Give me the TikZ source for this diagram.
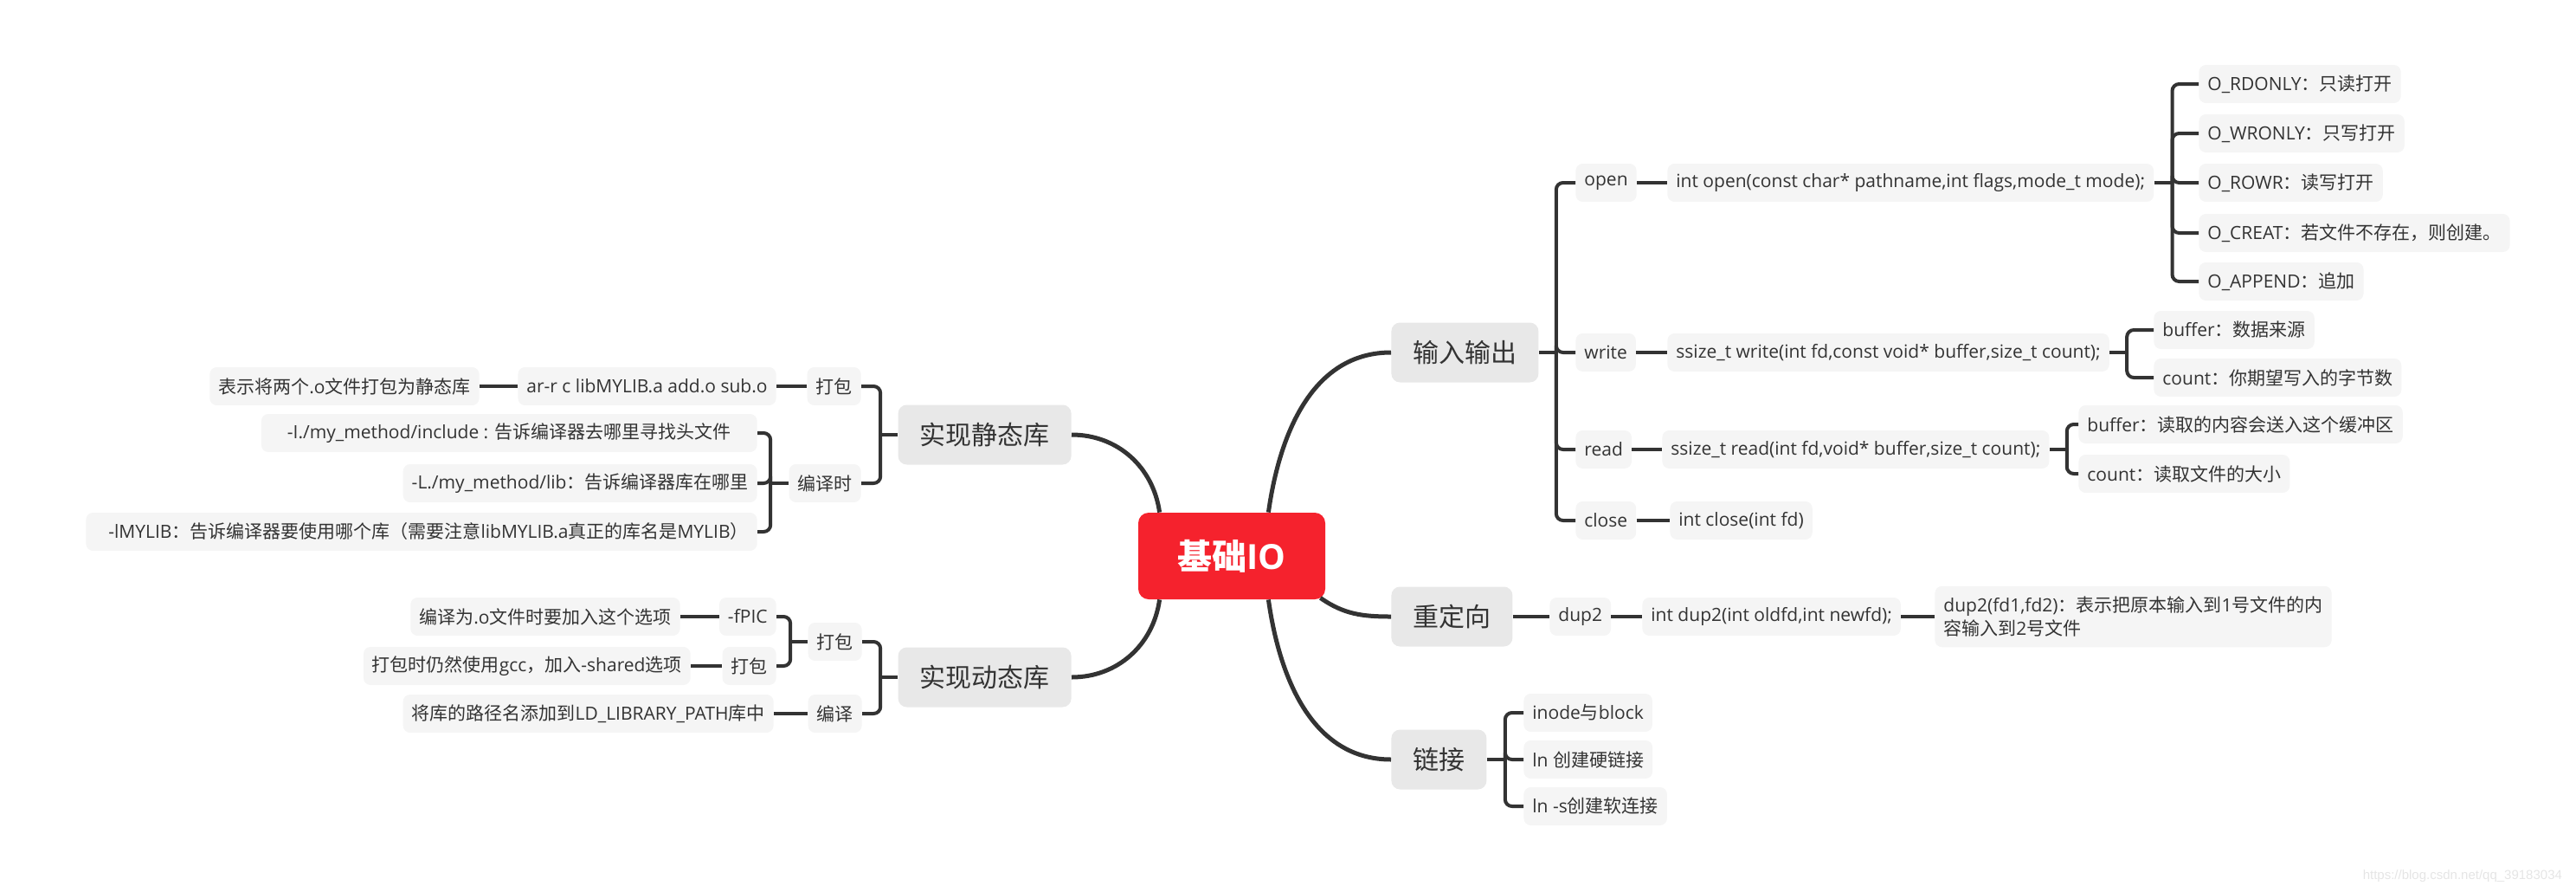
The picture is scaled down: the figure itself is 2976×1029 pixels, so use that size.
\documentclass[tikz,border=0pt]{standalone}
\usepackage{fontspec}
\setmainfont{Open Sans}
\newfontfamily\latinfont{Open Sans}
\newfontfamily\cjkfont{Noto Sans CJK SC}
\newfontfamily\wmfont{Liberation Sans}
% han characters and full width marks go to the CJK font
\newcount\cjkcode
\cjkcode="4E00
\loop\XeTeXcharclass\cjkcode=1 \advance\cjkcode by 1 \ifnum\cjkcode<"A000 \repeat
\XeTeXcharclass"FF1A=3 \XeTeXcharclass"FF0C=3 \XeTeXcharclass"3002=3
\XeTeXcharclass"FF08=2 \XeTeXcharclass"FF09=3
\XeTeXinterchartokenstate=1
\XeTeXinterchartoks 0 1 = {\cjkfont}
\XeTeXinterchartoks 0 2 = {\cjkfont}
\XeTeXinterchartoks 0 3 = {\cjkfont}
\XeTeXinterchartoks 4095 1 = {\cjkfont}
\XeTeXinterchartoks 4095 2 = {\cjkfont}
\XeTeXinterchartoks 4095 3 = {\cjkfont}
\XeTeXinterchartoks 1 0 = {\latinfont}
\XeTeXinterchartoks 2 0 = {\latinfont}
\XeTeXinterchartoks 3 0 = {\latinfont}

\definecolor{ink}{HTML}{333333}
\definecolor{leafgrey}{HTML}{F5F5F5}
\definecolor{branchgrey}{HTML}{E8E8E8}
\definecolor{rootred}{HTML}{F5222D}

\newcommand\leafsize{\fontsize{10.5pt}{13.5pt}\selectfont}
\newcommand\branchsize{\fontsize{15pt}{18pt}\selectfont}
\newcommand\rootsize{\fontsize{20pt}{24pt}\selectfont\bfseries}

\tikzset{
  leaf/.style={fill=leafgrey, text=ink, rounded corners=4pt, minimum height=22pt,
    inner xsep=5pt, inner ysep=3pt, font=\leafsize},
  branch/.style={fill=branchgrey, text=ink, rounded corners=5pt, minimum height=34.5pt,
    inner xsep=12.5pt, font=\branchsize},
  root/.style={fill=rootred, text=white, rounded corners=6pt, minimum width=108pt,
    minimum height=50pt, font=\rootsize},
  trunk/.style={draw=ink, line width=2.5pt},
  stub/.style={draw=ink, line width=2pt},
  brace/.style={draw=ink, line width=2pt, rounded corners=4pt},
}

\begin{document}
\begin{tikzpicture}[x=0.5pt, y=-0.5pt]
\useasboundingbox (0,0) rectangle (2976,1029);

\node[root] (root) at (1423,642) {基础IO};

\node[branch, anchor=west] (io) at (1607,407) {输入输出};
\node[branch, anchor=west] (redir) at (1607,712) {重定向};
\node[branch, anchor=west] (link) at (1607,877) {链接};
\node[branch, anchor=east] (static) at (1238,502) {实现静态库};
\node[branch, anchor=east] (dynamic) at (1238,782) {实现动态库};

\draw[trunk] ([xshift=-33pt]root.north east) to[out=82,in=180] (io.west);
\draw[trunk] ([xshift=-3pt,yshift=1pt]root.south east) to[out=-35,in=180] (redir.west);
\draw[trunk] ([xshift=-33pt]root.south east) to[out=-82,in=180] (link.west);
\draw[trunk] ([xshift=12.5pt]root.north west) to[out=98,in=0] (static.east);
\draw[trunk] ([xshift=12.5pt]root.south west) to[out=-98,in=0] (dynamic.east);

% 输入输出
\node[leaf, anchor=west] (open) at (1820,211) {open};
\node[leaf, anchor=west] (write) at (1820,407) {write};
\node[leaf, anchor=west] (read) at (1820,519) {read};
\node[leaf, anchor=west] (close) at (1820,601) {close};

\node[leaf, anchor=west] (open-call) at (1926,211) {int open(const char* pathname,int flags,mode\_t mode);};
\node[leaf, anchor=west] (write-call) at (1926,407) {ssize\_t write(int fd,const void* buffer,size\_t count);};
\node[leaf, anchor=west] (read-call) at (1920,519) {ssize\_t read(int fd,void* buffer,size\_t count);};
\node[leaf, anchor=west] (close-call) at (1929,601) {int close(int fd)};

\node[leaf, anchor=west] (o-rd) at (2540,97) {O\_RDONLY：只读打开};
\node[leaf, anchor=west] (o-wr) at (2540,154) {O\_WRONLY：只写打开};
\node[leaf, anchor=west] (o-rw) at (2540,211) {O\_ROWR：读写打开};
\node[leaf, anchor=west] (o-cr) at (2540,269) {O\_CREAT：若文件不存在，则创建。};
\node[leaf, anchor=west] (o-ap) at (2540,325) {O\_APPEND：追加};

\node[leaf, anchor=west] (w-buf) at (2488,381) {buffer：数据来源};
\node[leaf, anchor=west] (w-cnt) at (2488,436) {count：你期望写入的字节数};
\node[leaf, anchor=west] (r-buf) at (2401,490) {buffer：读取的内容会送入这个缓冲区};
\node[leaf, anchor=west] (r-cnt) at (2401,547) {count：读取文件的大小};

\coordinate (j-io) at ([xshift=10pt]io.east);
\draw[stub] (io.east) -- (j-io);
\foreach \c in {open,write,read,close} \draw[brace] (j-io) |- (\c.west);
\draw[stub] (open.east) -- (open-call.west);
\draw[stub] (write.east) -- (write-call.west);
\draw[stub] (read.east) -- (read-call.west);
\draw[stub] (close.east) -- (close-call.west);

\coordinate (j-open) at ([xshift=10.5pt]open-call.east);
\draw[stub] (open-call.east) -- (j-open);
\foreach \c in {o-rd,o-wr,o-rw,o-cr,o-ap} \draw[brace] (j-open) |- (\c.west);
\coordinate (j-write) at ([xshift=10pt]write-call.east);
\draw[stub] (write-call.east) -- (j-write);
\foreach \c in {w-buf,w-cnt} \draw[brace] (j-write) |- (\c.west);
\coordinate (j-read) at ([xshift=10pt]read-call.east);
\draw[stub] (read-call.east) -- (j-read);
\foreach \c in {r-buf,r-cnt} \draw[brace] (j-read) |- (\c.west);

% 重定向
\node[leaf, anchor=west] (dup) at (1790,712) {dup2};
\node[leaf, anchor=west] (dup-call) at (1897,712) {int dup2(int oldfd,int newfd);};
\node[leaf, anchor=west, align=left, inner ysep=6pt] (dup-note) at (2235,712)
  {dup2(fd1,fd2)：表示把原本输入到1号文件的内\\容输入到2号文件};
\draw[stub] (redir.east) -- (dup.west);
\draw[stub] (dup.east) -- (dup-call.west);
\draw[stub] (dup-call.east) -- (dup-note.west);

% 链接
\node[leaf, anchor=west] (inode) at (1760,823) {inode与block};
\node[leaf, anchor=west] (hard) at (1760,877) {ln 创建硬链接};
\node[leaf, anchor=west] (soft) at (1760,931) {ln -s创建软连接};
\coordinate (j-link) at ([xshift=10.5pt]link.east);
\draw[stub] (link.east) -- (j-link);
\foreach \c in {inode,hard,soft} \draw[brace] (j-link) |- (\c.west);

% 实现静态库
\node[leaf, anchor=east] (pack-s) at (995,446) {打包};
\node[leaf, anchor=east] (comp-s) at (995,558) {编译时};
\node[leaf, anchor=east] (ar-cmd) at (897,446) {ar-r c libMYLIB.a add.o sub.o};
\node[leaf, anchor=east] (ar-note) at (554,446) {表示将两个.o文件打包为静态库};
\node[leaf, anchor=east] (inc) at (875,500) {\hspace*{10pt}-I./my\_method/include : 告诉编译器去哪里寻找头文件\hspace*{10pt}};
\node[leaf, anchor=east] (libdir) at (875,558) {-L./my\_method/lib：告诉编译器库在哪里};
\node[leaf, anchor=east] (libname) at (875,614) {\hspace*{8pt}-lMYLIB：告诉编译器要使用哪个库（需要注意libMYLIB.a真正的库名是MYLIB）};

\coordinate (j-static) at ([xshift=-10pt]static.west);
\draw[stub] (static.west) -- (j-static);
\foreach \c in {pack-s,comp-s} \draw[brace] (j-static) |- (\c.east);
\draw[stub] (pack-s.west) -- (ar-cmd.east);
\draw[stub] (ar-cmd.west) -- (ar-note.east);
\coordinate (j-comp) at ([xshift=-10.5pt]comp-s.west);
\draw[stub] (comp-s.west) -- (j-comp);
\foreach \c in {inc,libdir,libname} \draw[brace] (j-comp) |- (\c.east);

% 实现动态库
\node[leaf, anchor=east] (pack-d) at (996,741) {打包};
\node[leaf, anchor=east] (comp-d) at (996,824) {编译};
\node[leaf, anchor=east] (fpic) at (897,712) {-fPIC};
\node[leaf, anchor=east] (shared) at (897,769) {打包};
\node[leaf, anchor=east] (fpic-note) at (786,712) {编译为.o文件时要加入这个选项};
\node[leaf, anchor=east] (shared-note) at (798,769) {打包时仍然使用gcc，加入-shared选项};
\node[leaf, anchor=east] (ldpath) at (894,824) {将库的路径名添加到LD\_LIBRARY\_PATH库中};

\coordinate (j-dynamic) at ([xshift=-10pt]dynamic.west);
\draw[stub] (dynamic.west) -- (j-dynamic);
\foreach \c in {pack-d,comp-d} \draw[brace] (j-dynamic) |- (\c.east);
\coordinate (j-pack) at ([xshift=-10pt]pack-d.west);
\draw[stub] (pack-d.west) -- (j-pack);
\foreach \c in {fpic,shared} \draw[brace] (j-pack) |- (\c.east);
\draw[stub] (fpic.west) -- (fpic-note.east);
\draw[stub] (shared.west) -- (shared-note.east);
\draw[stub] (comp-d.west) -- (ldpath.east);

\node[anchor=east, text=black!10, font=\wmfont\fontsize{7.5pt}{9pt}\selectfont] (mark) at (2967,1012) {https://blog.csdn.net/qq\_39183034};
\end{tikzpicture}
\end{document}
